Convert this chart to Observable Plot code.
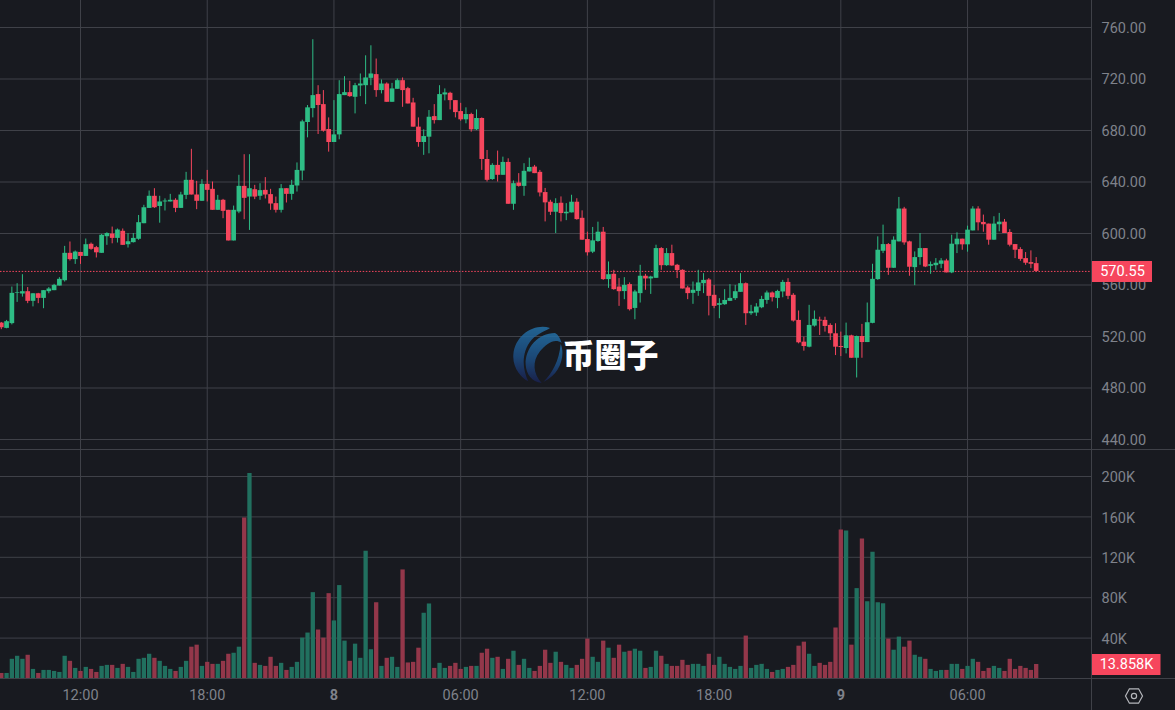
<!DOCTYPE html>
<html>
<head>
<meta charset="utf-8">
<script src="https://cdn.jsdelivr.net/npm/d3@7"></script>
<script src="https://cdn.jsdelivr.net/npm/@observablehq/plot@0.6"></script>
<style>
html,body{margin:0;padding:0;background:#181a20;overflow:hidden}
#page{position:relative;width:1175px;height:710px;background:#181a20}
#page svg{display:block}
#pricePane{height:449px;border-bottom:1px solid #3f4148}
#mark{position:absolute;left:562.5px;top:334px;font:900 32px "Noto Sans CJK SC",sans-serif;color:#fff;letter-spacing:0;line-height:38px;white-space:nowrap}
#logo{position:absolute;left:505px;top:318px;opacity:.82}
#gear{position:absolute;left:1124px;top:686px}
</style>
</head>
<body>
<div id="page">
  <div id="pricePane"></div>
  <div id="volPane"></div>
  <svg id="logo" width="70" height="72" viewBox="0 0 210 216">
    <defs><linearGradient id="lg" x1="0" y1="0" x2="0" y2="1"><stop offset="0" stop-color="#2474ac"/><stop offset=".55" stop-color="#1c4f86"/><stop offset="1" stop-color="#1a2152"/></linearGradient></defs>
    <path fill="url(#lg)" d="M135 30C90 15 30 50 25 110C22 150 50 180 70 190C50 150 50 100 80 65C100 45 125 38 135 30Z"/>
    <path fill="url(#lg)" d="M150 45C100 45 60 90 62 140C64 170 80 190 110 195C85 170 80 130 105 100C125 75 150 60 170 75C165 60 160 50 150 45Z"/>
    <path fill="url(#lg)" d="M167 78C182 112 165 170 115 192C142 165 162 130 167 78Z"/>
  </svg>
  <div id="mark">币圈子</div>
  <svg id="gear" width="20" height="20" viewBox="0 0 20 20" fill="none" stroke="#b4b6bb" stroke-width="1.2">
    <polygon points="5.4,2.8 14.6,2.8 18.5,10 14.6,17.2 5.4,17.2 1.5,10"/>
    <circle cx="10" cy="10" r="2.6"/>
  </svg>
</div>
<script>
const opens=[530.4,526.3,530,553.5,553,554.8,547.3,553.2,549.6,554.8,
555.6,559.2,563.3,584.6,579.7,585.3,582.2,591.6,589,584.6,
597.5,599.6,596.2,601.7,591.3,592.9,595.5,607.6,619.5,628.9,
621,624.5,624.5,625.8,619.5,629.6,641.3,629.9,625,638.2,
634.3,618,625.8,618,594.2,616.7,636.6,628.3,634,628.9,
633.5,630.2,623.2,618,634.8,630.4,636.9,648.5,686.2,697,
707.9,700.1,680.8,670.7,676.6,707.1,709.4,705.8,714.6,714.8,
720.5,723.4,711,716.1,701.9,712,718.7,712.5,701.4,682.6,
670.7,674.8,690.8,687.7,707.6,708.9,703.2,694.7,688.3,692.4,
680.5,689.3,657.5,641.9,652.9,645.2,655.2,622.7,639.2,636.6,
647.8,651.6,647.5,631.8,624.3,616.5,623.5,615.3,616,624.3,
611.8,595.3,585.5,593.8,601,564.2,568.3,558.4,554.9,560.3,
541.8,553.3,566.8,564.7,565.2,588.3,575,584.4,575.3,571.4,
557.7,553.5,555,561,563.9,552,544.2,544.7,547.3,549.4,
554.3,561,537.7,538.2,542.3,548,553.8,549.6,554.6,562,
552,532.5,515.6,511.7,528.1,532.7,532.5,528.6,522.1,512.2,
510.7,520.5,503.1,520,515.3,530.2,564.2,586.2,591.4,573,
593.5,619,593.5,573.5,581.3,588.3,574.5,575,576.1,578.7,
569.4,591.2,595.6,591.2,602,619,608.6,607.3,594.8,606.8,
608.8,600.8,591.4,587.5,580.5,577.4,576.6];
const closes=[526.8,531.5,553.5,554,554.8,547.3,553.2,549.6,555.6,556.9,
559.7,564.4,584.6,579.7,585.6,582.2,591.3,587.7,585,598.6,
600,596.2,602.7,590.8,593.6,596.2,608.4,620,628.9,620,
624.5,625.2,625.8,619.5,629.9,641.3,629.9,625,638.2,633.5,
618,625.8,617.2,594.2,618,636.6,627.3,634.8,628.3,633.3,
629.9,622.9,618,634.8,630.4,637.4,649,686.7,697.6,707.1,
699.4,679.5,670.7,676.6,707.9,709.4,706.3,714.8,716.1,720.8,
723.9,711,716.1,701.9,712.3,718.7,711,700.6,682.6,670.7,
675.3,690.3,687.7,707.9,709.2,703.2,693.9,688.3,692.4,680.5,
689.3,657.5,641.3,652.9,645.2,655.2,622.7,638.7,636.6,648.3,
651.3,646.5,631.5,623.8,616.5,623.2,615.5,616.5,624.3,610.8,
594.8,585,594.3,601,564.2,568,556.4,554.8,559.7,540.8,
554.6,566.8,564.7,566.2,588.3,575,584.4,574.8,571.2,556.9,
553.3,555.9,561.6,563.6,551.2,543.4,545.5,548,549.6,554.8,
561,537.7,539.2,542.9,548.8,553.8,550.1,555,562,551.2,
532,515.1,512.2,528.6,533.3,532,527.8,522.1,511.7,511.4,
520.5,503.1,520,515.3,530.7,564.4,587,591.4,573,594.8,
619,592.7,573.8,581.3,588.3,574,575.8,576.9,578.7,569.4,
591.7,595.6,591.2,602.6,619,608.3,606.8,594.8,607.3,608.8,
600,590.9,587,579.9,576.9,576.1,570.55];
const highs=[530.9,532.5,558.4,561,568,558,553.2,553.5,555.6,558,
560.5,565.7,590,593.4,586.4,585.3,595.7,592.6,590,599.3,
600.6,605,603.5,603.5,599.9,600,614,621.9,633,634.8,
628.9,626.9,630.4,627,632,647.5,665.4,640.5,641.8,649,
640,629.6,626.5,618,621.3,645.2,661.2,661.2,637.4,638.7,
643.4,634.3,628.3,638,634.8,641.3,654.8,688,699.4,750.5,
714.8,711,689.8,703.2,718.7,721.8,718.2,716.6,723.9,738,
745.8,735.5,719.2,717,716.6,720,720.8,713.5,705,689.8,
680.5,695.5,700.1,714.8,712.3,709.7,703.2,701.1,697.6,693.4,
696,689.8,664.5,654.2,664,659.3,658,640.8,646.5,654.2,
658.5,652.9,649,635,625.8,627,628.4,623.2,629.7,627,
617.6,601,604.7,608.8,604.7,577.9,571.4,565,565.7,561.6,
555.9,575.3,568.3,566.8,590.9,589,588.3,590.9,576,571.8,
559,562.3,571.4,568.8,565,559.7,549.4,556.4,560.3,559.7,
568.8,561.6,544.2,545.5,551.2,555.3,554.6,555.9,563.6,564.9,
553.3,539.8,519.5,544.2,539.8,535,535,529.9,529.9,523.4,
530.4,521,520.3,529.4,546,576.1,597.4,606.5,592.2,597.4,
628,620.3,594,585.7,600,588.3,577.9,580.5,580.5,580,
598.7,600.5,595.6,605.7,620.8,620.8,614.3,607.3,613,615.6,
610.9,603,591.4,589,585.2,586.5,581.3];
const lows=[525.3,526,529,546.5,550.6,545.5,543,545.5,541.6,553.2,
555.6,559.2,562.3,578.6,576,576,582.2,587,581,584.6,
590.8,592,592.6,590.8,588.7,592.6,594.7,607.6,619.5,619.5,
608,617.5,624.5,616.2,619.5,626.3,629.9,618.5,625,624.5,
618,618,611.5,594.2,594.2,615.4,610.7,602.4,626.3,625.8,
626.8,618,615.9,615.9,623.7,625.8,632.2,641,674.3,689.8,
676.9,678.7,663.2,670.7,672.8,707.1,705.8,692.9,706.3,700.1,
714.8,705.8,708.4,701.9,701.9,712,698,700.6,682.6,667,
660.7,661.9,685,687.7,703,696,689.8,687.2,685.2,678.7,
680,649,640,641.3,640,645.2,622.7,618,636,628.9,
647.8,646.5,628.4,609,614,600,609,610,616,610.3,
594.8,582.5,584.4,593.2,563.6,557.4,555.9,543.4,548.6,539.8,
533,546,555.9,552.7,565.2,571.4,574.5,574.5,565,556.9,
548.6,545,551.2,553.3,536,541.6,533.8,544.2,547.3,548,
554.3,528.6,536.4,535.6,541.6,545,546.8,541.6,550.1,548.6,
531.2,514.3,508.6,511.2,527.3,520.8,523.4,516.9,505.2,504.4,
506.5,503.1,487.8,503.1,515.3,529.9,563.6,584.4,567.5,573,
593.5,590.9,566.8,559.5,575.3,573.5,568.3,571.4,572.7,569.4,
568.8,584.4,587,585.5,602,602,601,590.9,594.8,601.3,
600,589.6,580.5,578.4,575.3,572.7,570.1];
const volumes=[5,5,19,22,19,23,9,5,8,8,
7,6,22,17,10,7,11,9,6,12,
13,13,10,14,11,6,19,20,24,20,
17,12,9,7,11,17,31,33,12,16,
14,14,17,24,25,31,159,203,15,13,
12,21,12,15,8,11,16,40,45,85,
48,40,84,57,92,37,17,34,20,126,
28.5,75,12,20,21,11,107.5,15.4,16,30,
64.6,73.8,10,15,10,12,15,9,11,12,
12,25,29,20,21,9,19,27,13,19,
10,7,12,28,15,26,16,13,10,13,
19,39,21,16,37,30,20,33,26,27,
29,27,10,11,27,22,14,12,12,18,
13,14,14,12,24,13,21,14,11,9,
12,42,10,13,14,9,6,8,9,11,
13,32,36,24,12,15,13,16,50,147,
146,33,89,138,76,125,75,74,39,28,
41,31,37,23,21,19,9,7,8,8,
14,14,9,12,19,16,7,10,12,10,
7,19,9,12,10,8,13.858];
const priceTicks=[440,480,520,560,600,640,680,720,760];
const volumeTicks=[40,80,120,160,200];
const lastPrice=570.55, lastVolume=13.858;

const BG="#181a20",UP="#2ebd85",DOWN="#f6465d",GRID="#3f4148",TXT="#7f828b",FONT="Roboto, sans-serif";
const SLOT=15*60000, t0=Date.UTC(2024,0,7,8,15);
const slotTime=s=>new Date(t0+s*SLOT);
const times=opens.map((_,i)=>slotTime(i));
const timeTicks=[15,39,63,87,111,135,159,183].map(slotTime);
const xStart=slotTime(15-80/5.28), xEnd=slotTime(15+1011/5.28), xEdge=slotTime(15+1095/5.28);
const xTag=px=>slotTime(15+(1011+px)/5.28);
const candles=times.map((t,i)=>({t,o:opens[i],c:closes[i],h:highs[i],l:lows[i],v:volumes[i],up:closes[i]>=opens[i]}));
const xOpt={type:"utc",domain:[xStart,xEnd],range:[0,1091],axis:null};

const price=Plot.plot({
  width:1175,height:449,marginTop:0,marginBottom:0,marginLeft:0,marginRight:84,
  style:{background:"transparent",fontFamily:FONT,color:TXT},
  x:xOpt,
  y:{domain:[760-449/1.2875+27/1.2875,760+27/1.2875],range:[449,0],axis:null},
  marks:[
    Plot.ruleX(timeTicks,{stroke:GRID}),
    Plot.ruleY(priceTicks,{x1:xStart,x2:xEnd,stroke:GRID}),
    Plot.ruleX([xEnd],{stroke:GRID}),
    Plot.axisY({ticks:priceTicks,anchor:"right",tickSize:0,tickPadding:10,dy:0.8,tickFormat:d=>d.toFixed(2),label:null,fontSize:14.5,color:TXT}),
    Plot.ruleY([lastPrice],{x1:xStart,x2:xEnd,stroke:DOWN,strokeDasharray:"1.5,1.6"}),
    Plot.ruleX(candles,{x:"t",y1:"l",y2:"h",stroke:d=>d.up?UP:DOWN,strokeWidth:1}),
    Plot.ruleX(candles,{x:"t",y1:"o",y2:"c",stroke:d=>d.up?UP:DOWN,strokeWidth:4.7}),
    Plot.ruleY([lastPrice],{x1:xTag(1),x2:xTag(61),stroke:DOWN,strokeWidth:21}),
    Plot.text([lastPrice],{x:xTag(31),y:d=>d,text:d=>d.toFixed(2),fill:"#fff",fontSize:14.5})
  ]
});
document.getElementById("pricePane").append(price);

const volume=Plot.plot({
  width:1175,height:260,marginTop:0,marginBottom:32,marginLeft:0,marginRight:84,
  style:{background:"transparent",fontFamily:FONT,color:TXT},
  x:xOpt,
  y:{domain:[0,228/1.01],range:[228,0],axis:null},
  marks:[
    Plot.ruleX(timeTicks,{stroke:GRID}),
    Plot.ruleY(volumeTicks,{x1:xStart,x2:xEnd,stroke:GRID}),
    Plot.ruleY([0],{x1:xStart,x2:xEdge,stroke:GRID}),
    Plot.ruleX([xEnd],{y1:-40,y2:228/1.01,stroke:GRID}),
    Plot.ruleX(candles,{x:"t",y1:0,y2:"v",stroke:d=>d.up?"#21705f":"#93374a",strokeWidth:4.3}),
    Plot.axisX({ticks:timeTicks.filter(d=>d.getUTCHours()!==0),anchor:"bottom",tickSize:0,tickPadding:11,tickFormat:d3.utcFormat("%H:%M"),label:null,fontSize:14.5,color:TXT}),
    Plot.axisX({ticks:timeTicks.filter(d=>d.getUTCHours()===0),anchor:"bottom",tickSize:0,tickPadding:11,tickFormat:d3.utcFormat("%-d"),label:null,fontSize:14.5,fontWeight:700,color:TXT}),
    Plot.axisY({ticks:volumeTicks,anchor:"right",tickSize:0,tickPadding:10,dy:1,tickFormat:d=>d+"K",label:null,fontSize:14.5,color:TXT}),
    Plot.ruleY([lastVolume],{x1:xTag(1),x2:xTag(69.5),stroke:DOWN,strokeWidth:21}),
    Plot.text([lastVolume],{x:xTag(35),y:d=>d,text:d=>d.toFixed(3)+"K",fill:"#fff",fontSize:14.5})
  ]
});
document.getElementById("volPane").append(volume);
</script>
</body>
</html>
